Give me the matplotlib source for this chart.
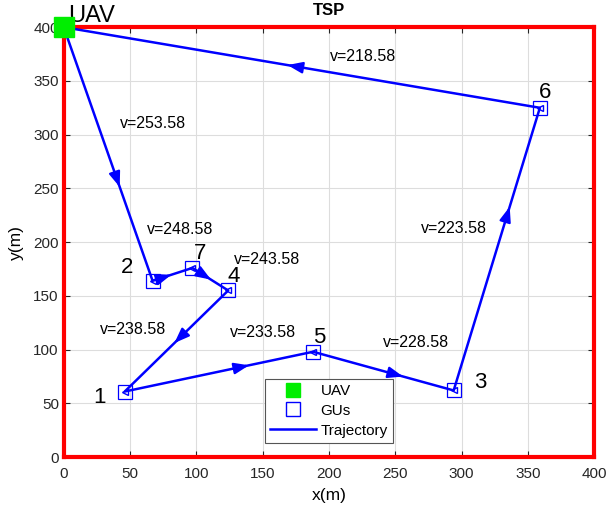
import matplotlib
matplotlib.use('Agg')
import matplotlib.pyplot as plt
from matplotlib.lines import Line2D
import numpy as np

plt.rcParams['font.family'] = ['Liberation Sans', 'DejaVu Sans']

# ground users (GU id -> position)
gu_ids = [1, 2, 3, 4, 5, 6, 7]
gu_x = [46, 67, 294, 124, 188, 359, 97]
gu_y = [61, 164, 62, 155, 98, 325, 176]

# where the id numbers are written
lab_x = [27, 48, 314, 128, 193, 363, 103]
lab_y = [55, 176, 69, 168, 111, 339, 189]

uav_x, uav_y = 0, 400

# visiting order of the tour
order = [2, 7, 4, 1, 5, 3, 6]

# where along each leg the arrow head sits (fraction of the leg)
arrow_frac = [0.63, 0.47, 0.52, 0.52, 0.66, 0.64, 0.65, 0.53]

# speed labels per leg and their positions
speeds = ['v=253.58', 'v=248.58', 'v=243.58', 'v=238.58',
          'v=233.58', 'v=228.58', 'v=223.58', 'v=218.58']
sp_x = [42, 63, 128, 27, 125, 241, 269, 201]
sp_y = [310, 212, 184, 119, 116, 107, 213, 373]

fig = plt.figure(figsize=(6.07, 5.13), dpi=100)
ax = fig.add_axes([0.105, 0.109, 0.874, 0.838])

pos = {i: (x, y) for i, x, y in zip(gu_ids, gu_x, gu_y)}
tx = [uav_x] + [pos[i][0] for i in order] + [uav_x]
ty = [uav_y] + [pos[i][1] for i in order] + [uav_y]

ax.plot(tx, ty, color='blue', lw=1.8, zorder=3)
ax.plot(tx[1:-1], ty[1:-1], ls='none', marker='<', ms=5, mfc='none',
        mec='blue', zorder=3)

# arrow heads along each leg
for k in range(len(tx) - 1):
    x0, y0, x1, y1 = tx[k], ty[k], tx[k + 1], ty[k + 1]
    f = arrow_frac[k]
    dx, dy = x1 - x0, y1 - y0
    L = np.hypot(dx, dy)
    ux, uy = dx / L, dy / L
    px, py = x0 + dx * f, y0 + dy * f
    ax.annotate('', xy=(px, py), xytext=(px - ux * 6, py - uy * 6),
                arrowprops=dict(arrowstyle='-|>,head_length=0.9,head_width=0.34',
                                color='blue', lw=1.6, shrinkA=0, shrinkB=0),
                zorder=4)

ax.plot(gu_x, gu_y, ls='none', marker='s', ms=10, mfc='none', mec='blue',
        mew=0.9, zorder=4)
ax.plot([uav_x], [uav_y], ls='none', marker='s', ms=14, color='#00ee00',
        zorder=5, clip_on=False)

for i, x, y in zip(gu_ids, lab_x, lab_y):
    ax.text(x, y, str(i), fontsize=16, ha='center', va='center')
ax.text(3, 410, 'UAV', fontsize=17, ha='left', va='center')

for s, x, y in zip(speeds, sp_x, sp_y):
    ax.text(x, y, s, fontsize=11.5, ha='left', va='center')

ax.set_xlim(0, 400)
ax.set_ylim(0, 400)
ax.set_xticks(np.arange(0, 401, 50))
ax.set_yticks(np.arange(0, 401, 50))
ax.grid(True, color='#dddddd', lw=0.8)
ax.set_axisbelow(True)
ax.tick_params(labelsize=11, direction='in', length=4, colors='#262626',
               top=True, right=True)
ax.tick_params(axis='x', pad=7)
for sp in ax.spines.values():
    sp.set_color('red')
    sp.set_linewidth(3)

ax.set_xlabel('x(m)', fontsize=12.5, labelpad=5)
ax.set_ylabel('y(m)', fontsize=12.5, labelpad=7)
ax.set_title('TSP', fontsize=12, fontweight='bold', pad=9)

handles = [
    Line2D([], [], ls='none', marker='s', ms=10, color='#00ee00'),
    Line2D([], [], ls='none', marker='s', ms=10, mfc='none', mec='blue'),
    Line2D([], [], color='blue', lw=1.8),
]
lg = ax.legend(handles, ['UAV', 'GUs', 'Trajectory'], loc='lower left',
               bbox_to_anchor=(0.379, 0.033), borderaxespad=0, fontsize=11,
               fancybox=False, edgecolor='#555555', framealpha=1,
               borderpad=0.35, handlelength=3.0, labelspacing=0.38,
               handletextpad=0.3)
lg.get_frame().set_linewidth(0.8)

fig.savefig('out.png', dpi=100)
